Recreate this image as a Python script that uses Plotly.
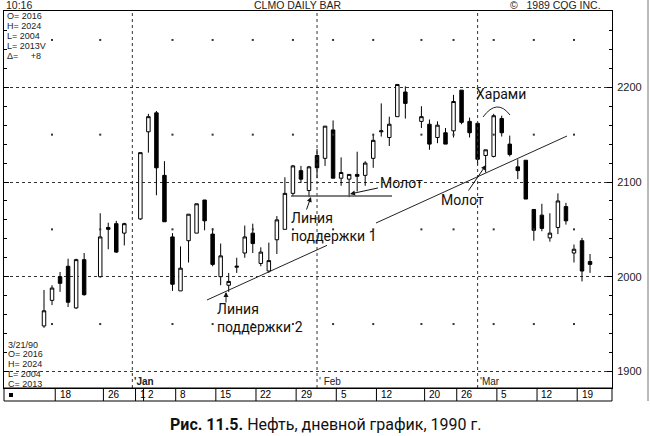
import plotly.graph_objects as go

# ---------------- data ----------------
# trading-day slot index (weekdays from Fri 15 Dec 1989; holidays left empty)
slots = [0, 1, 2, 3, 4, 5, 7, 8, 9, 10,
         12, 13, 14, 15, 16, 17, 18, 19, 20, 21, 22, 23, 24, 25, 26, 27, 28, 29, 30,
         31, 32, 33, 34, 35, 36, 37, 38, 39, 40, 41, 42, 43, 44, 45,
         47, 48, 49, 50, 51, 52, 53, 54, 55, 56, 57, 58, 59, 60, 61, 62, 63, 64, 65,
         66, 67, 68]
opens = [1948, 1975, 2000, 2011, 1967, 2018, 2000, 2052, 2056, 2046,
         2061, 2153, 2173, 2107, 2042, 1985, 2038, 2046, 2081, 2045, 2000, 1991, 2010, 2025, 2046, 2014, 2006, 2039, 2050,
         2088, 2112, 2091, 2128, 2125, 2155, 2104, 2103, 2108, 2107, 2125, 2153, 2147, 2169, 2195,
         2164, 2161, 2147, 2152, 2154, 2197, 2164, 2162, 2128, 2127, 2167, 2140, 2116, 2123, 2071, 2065, 2041, 2052, 2074,
         2025, 2038, 2016]
highs = [1986, 1991, 2005, 2019, 2019, 2025, 2067, 2057, 2059, 2057,
         2131, 2172, 2175, 2122, 2046, 2032, 2066, 2077, 2081, 2051, 2035, 2004, 2020, 2054, 2056, 2031, 2036, 2064, 2105,
         2118, 2117, 2117, 2135, 2159, 2165, 2126, 2108, 2132, 2122, 2150, 2183, 2169, 2203, 2201,
         2180, 2166, 2164, 2157, 2192, 2197, 2168, 2162, 2134, 2172, 2170, 2149, 2124, 2123, 2071, 2077, 2067, 2088, 2078,
         2034, 2041, 2024]
lows = [1946, 1970, 1984, 1968, 1966, 1980, 1999, 2029, 2025, 2033,
        2060, 2131, 2086, 2058, 1985, 1985, 2015, 2046, 2049, 2011, 1991, 1984, 2004, 2020, 2025, 2011, 2004, 2024, 2050,
        2085, 2099, 2084, 2104, 2117, 2104, 2096, 2084, 2090, 2096, 2115, 2148, 2138, 2169, 2167,
        2157, 2134, 2141, 2140, 2147, 2161, 2147, 2118, 2110, 2126, 2148, 2127, 2103, 2082, 2038, 2048, 2037, 2045, 2055,
        2015, 1995, 2004]
closes = [1964, 1988, 1993, 1973, 2018, 1981, 2042, 2050, 2026, 2056,
          2131, 2169, 2115, 2058, 1992, 2009, 2066, 2077, 2059, 2013, 2022, 1995, 2011, 2042, 2035, 2026, 2017, 2060, 2088,
          2117, 2103, 2116, 2115, 2159, 2104, 2110, 2108, 2106, 2120, 2144, 2154, 2161, 2203, 2183,
          2169, 2140, 2160, 2140, 2185, 2163, 2152, 2124, 2134, 2170, 2152, 2129, 2112, 2082, 2049, 2051, 2046, 2080, 2059,
          2029, 2006, 2013]

tick_slots = [1, 7, 11, 12, 16, 21, 26, 31, 36, 41, 47, 51, 56, 61, 66]
tick_labels = ["18", "26", "1", "2", "8", "15", "22", "29", "5", "12", "20", "26", "5", "12", "19"]
month_slots = [11, 34, 54]
month_labels = ["'Jan", "' Feb", "'Mar"]
price_ticks = [1900, 2000, 2100, 2200]
half_levels = [1950, 2050, 2150, 2250]
top_info = ["O= 2016", "H= 2024", "L= 2004", "L= 2013V", "\u0394=\u00a0\u00a0\u00a0\u00a0\u00a0+8"]
bottom_info = ["3/21/90", "O= 2016", "H= 2024", "L= 2004", "C= 2013"]

# ---------------- geometry helpers ----------------
W, H = 650, 436
L, R, T, B = 4, 612, 11, 388
X0, DX = 44.0, 8.03          # pixel of slot 0, pixels per slot
Y2000, PPP = 276.7, 0.947    # pixel of price 2000, pixels per point


def sx(px):
    return (px - X0) / DX


def sp(py):
    return 2000 + (Y2000 - py) / PPP


def pxp(px):
    return (px - L) / (R - L)


def pyp(py):
    return (B - py) / (B - T)


xr = [sx(L), sx(R)]
yr = [sp(B), sp(T)]

fig = go.Figure()

fig.add_trace(go.Candlestick(
    x=slots, open=opens, high=highs, low=lows, close=closes,
    increasing=dict(line=dict(color="black", width=1), fillcolor="white"),
    decreasing=dict(line=dict(color="black", width=1), fillcolor="black"),
    whiskerwidth=0, hoverinfo="skip", showlegend=False,
))

# weekly dots at half levels
wk = [s for s in tick_slots if s not in (11, 12)]
fig.add_trace(go.Scatter(
    x=[s for s in wk for _ in half_levels],
    y=[lv for _ in wk for lv in half_levels],
    mode="markers", marker=dict(symbol="square", size=2, color="#333"),
    hoverinfo="skip", showlegend=False,
))

shapes = []
# month boundary dotted verticals
for s in month_slots:
    shapes.append(dict(type="line", xref="x", yref="y", x0=s, x1=s, y0=yr[0], y1=yr[1],
                       line=dict(color="#333", width=1, dash="dot")))

# support line 2 (rising trendline) with a gap under the label
ax0, ay0 = sx(207), sp(300)
ax1, ay1 = sx(567), sp(136)


def tl(x):
    return ay0 + (ay1 - ay0) * (x - ax0) / (ax1 - ax0)


for a, b in [(ax0, sx(327)), (sx(376), ax1)]:
    shapes.append(dict(type="line", xref="x", yref="y", x0=a, x1=b, y0=tl(a), y1=tl(b),
                       line=dict(color="#222", width=1)))

# support line 1 (horizontal)
shapes.append(dict(type="line", xref="x", yref="y", x0=sx(291), x1=sx(392), y0=sp(196), y1=sp(196),
                   line=dict(color="#555", width=1.5)))

# harami arc
shapes.append(dict(type="path", xref="x", yref="y",
                   path=f"M {sx(483)},{sp(117)} Q {sx(497)},{sp(98)} {sx(510)},{sp(115)}",
                   line=dict(color="#222", width=1)))

# bottom date row
rb = pyp(401)
shapes.append(dict(type="rect", xref="paper", yref="paper", x0=0, x1=1, y0=rb, y1=0,
                   line=dict(color="black", width=1)))
for s in tick_slots:
    shapes.append(dict(type="line", xref="x", yref="paper", x0=s + 0.4, x1=s + 0.4, y0=rb, y1=0,
                       line=dict(color="black", width=1)))
shapes.append(dict(type="rect", xref="paper", yref="paper", x0=pxp(9), x1=pxp(13), y0=pyp(397), y1=pyp(393),
                   fillcolor="black", line=dict(width=0)))
# outer right frame
shapes.append(dict(type="line", xref="paper", yref="paper", x0=pxp(648), x1=pxp(648), y0=pyp(401), y1=pyp(0),
                   line=dict(color="#777", width=1)))

ann = []
small = dict(family="Liberation Sans, Arial", size=9, color="#222")
for i, t in enumerate(top_info):
    ann.append(dict(xref="paper", yref="paper", x=pxp(6), y=pyp(16.5 + 9.8 * i), text=t, showarrow=False,
                    xanchor="left", yanchor="middle", font=small, borderpad=0))
for i, t in enumerate(bottom_info):
    ann.append(dict(xref="paper", yref="paper", x=pxp(7), y=pyp(344.5 + 9.8 * i), text=t, showarrow=False,
                    xanchor="left", yanchor="middle", font=small, borderpad=0))
for s, t in zip(tick_slots, tick_labels):
    ann.append(dict(xref="x", yref="paper", x=s + 0.7, y=pyp(394.5), text=t, showarrow=False,
                    xanchor="left", yanchor="middle",
                    font=dict(family="Liberation Sans, Arial", size=10, color="black")))
for s, t in zip(month_slots, month_labels):
    ann.append(dict(xref="x", yref="paper", x=s, y=pyp(381), text=t if s != 11 else "<b>" + t + "</b>",
                    showarrow=False, xanchor="left", yanchor="middle",
                    font=dict(family="Liberation Sans, Arial", size=10, color="#222")))

# header
hdr = dict(family="Liberation Sans, Arial", size=10.5, color="#222")
ann.append(dict(xref="paper", yref="paper", x=pxp(4), y=pyp(5), text="10:16", showarrow=False,
                xanchor="left", yanchor="middle", font=hdr))
ann.append(dict(xref="paper", yref="paper", x=pxp(298), y=pyp(5), text="CLMO DAILY BAR", showarrow=False,
                xanchor="center", yanchor="middle", font=hdr))
ann.append(dict(xref="paper", yref="paper", x=pxp(555), y=pyp(5), text="\u00a9\u00a0\u00a0 1989 CQG INC.",
                showarrow=False, xanchor="center", yanchor="middle", font=hdr))

lab = dict(family="Roboto, Arial", size=14, color="#111")
# labels
ann.append(dict(x=sx(289), y=sp(227), text="Линия<br>поддержки 1", showarrow=False, xanchor="left",
                yanchor="middle", align="left", font=lab))
ann.append(dict(x=sx(215), y=sp(318), text="Линия<br>поддержки 2", showarrow=False, xanchor="left",
                yanchor="middle", align="left", font=lab))
ann.append(dict(x=sx(501), y=sp(94), text="Харами", showarrow=False, xanchor="center", yanchor="middle",
                font=lab))
# arrows
ann.append(dict(x=sx(350), y=sp(194), text="Молот", showarrow=True, ax=51, ay=-11, font=lab,
                arrowhead=2, arrowsize=1, arrowwidth=1, arrowcolor="#111"))
ann.append(dict(x=sx(486), y=sp(165), text="Молот", showarrow=True, ax=-24, ay=35, font=lab,
                arrowhead=2, arrowsize=1, arrowwidth=1, arrowcolor="#111"))
ann.append(dict(x=sx(311), y=sp(197), text="", showarrow=True, ax=-5, ay=14,
                arrowhead=2, arrowsize=1, arrowwidth=1, arrowcolor="#111"))
ann.append(dict(x=sx(226), y=sp(292), text="", showarrow=True, ax=0, ay=12,
                arrowhead=2, arrowsize=1, arrowwidth=1, arrowcolor="#111"))

# caption
ann.append(dict(xref="paper", yref="paper", x=pxp(325), y=pyp(424),
                text="<b>Рис. 11.5.</b> Нефть, дневной график, 1990 г.", showarrow=False,
                xanchor="center", yanchor="middle", font=dict(family="Roboto, Arial", size=16, color="#111")))

fig.update_layout(
    width=W, height=H,
    margin=dict(l=L, r=W - R, t=T, b=H - B, pad=0),
    paper_bgcolor="white", plot_bgcolor="white",
    boxgap=0.38,
    showlegend=False,
    shapes=shapes, annotations=ann,
    xaxis=dict(range=xr, showgrid=False, zeroline=False, showticklabels=False, ticks="",
               showline=True, mirror=True, linecolor="black", linewidth=1,
               rangeslider=dict(visible=False), fixedrange=True),
    yaxis=dict(range=yr, side="right", tickvals=price_ticks, showgrid=True, griddash="dot",
               gridcolor="#333", gridwidth=1, zeroline=False,
               showline=True, mirror="ticks", linecolor="black", linewidth=1,
               ticks="inside", ticklen=5, tickcolor="black",
               minor=dict(dtick=20, ticks="inside", ticklen=3, tickcolor="black", showgrid=False),
               tickfont=dict(family="Liberation Sans, Arial", size=11, color="#222"),
               ticklabelstandoff=2, fixedrange=True),
)

fig.write_html("out.html", config={"displayModeBar": False},
               post_script="document.body.style.margin='0';document.body.style.overflow='hidden';")
